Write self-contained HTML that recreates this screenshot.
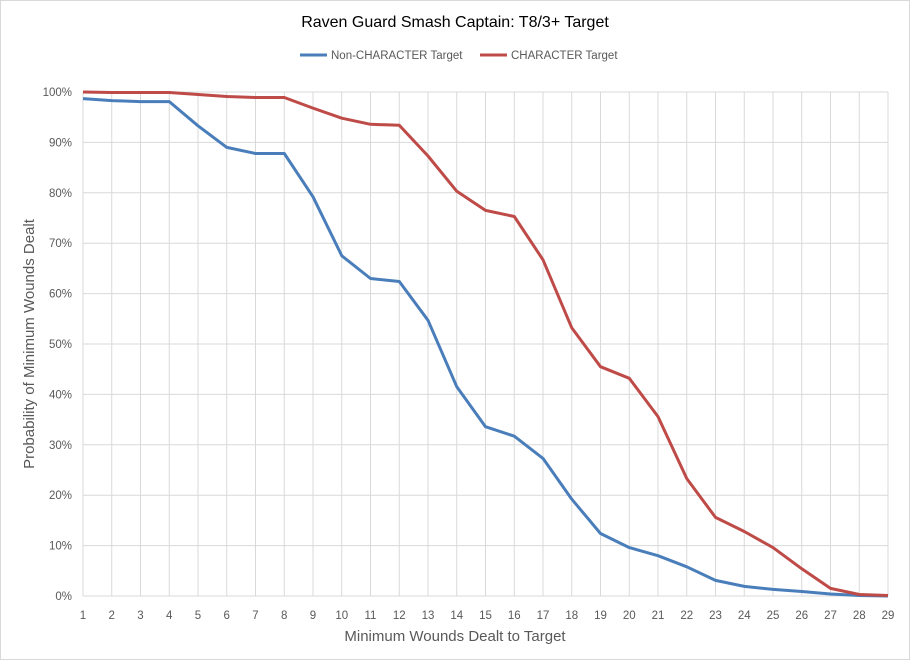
<!DOCTYPE html>
<html><head><meta charset="utf-8"><style>
body{margin:0;background:#fff;}
svg{display:block;font-family:"Liberation Sans",sans-serif;}
</style></head><body>
<svg id="c" width="910" height="660" xmlns="http://www.w3.org/2000/svg">
<rect x="0.5" y="0.5" width="909" height="659" fill="#fff" stroke="#d9d9d9"/>
<text x="455" y="27" text-anchor="middle" font-size="16" fill="#000">Raven Guard Smash Captain: T8/3+ Target</text>
<line x1="300" y1="55" x2="327" y2="55" stroke="#4a7ebb" stroke-width="3"/>
<text x="331" y="59" font-size="11.5" fill="#595959">Non-CHARACTER Target</text>
<line x1="480" y1="55" x2="507" y2="55" stroke="#be4b48" stroke-width="3"/>
<text x="511" y="59" font-size="11.5" fill="#595959">CHARACTER Target</text>
<text x="455" y="641" text-anchor="middle" font-size="15" fill="#595959">Minimum Wounds Dealt  to Target</text>
<text transform="translate(34,344) rotate(-90)" text-anchor="middle" font-size="15" fill="#595959">Probability of Minimum Wounds Dealt</text>
<g id="g"></g>
</svg>
<script>
var g=document.getElementById('g'),s='';
var X0=83,X1=888,Y0=596,Y1=92,dx=(X1-X0)/28;
function X(i){return X0+i*dx}function Y(p){return Y0-(Y0-Y1)*p/100}
for(var i=0;i<=10;i++){var y=Y(i*10);s+='<line x1="'+X0+'" x2="'+X1+'" y1="'+y+'" y2="'+y+'" stroke="#d9d9d9"/>';
s+='<text x="72" y="'+(y+4)+'" text-anchor="end" font-size="11.5" fill="#595959">'+(i*10)+'%</text>';}
for(var i=0;i<29;i++){var x=X(i);s+='<line x1="'+x+'" x2="'+x+'" y1="'+Y1+'" y2="'+Y0+'" stroke="#d9d9d9"/>';
s+='<text x="'+x+'" y="619" text-anchor="middle" font-size="11.5" fill="#595959">'+(i+1)+'</text>';}
var b=[98.7,98.3,98.1,98.1,93.3,89,87.8,87.8,79.2,67.5,63,62.4,54.7,41.5,33.6,31.7,27.3,19.2,12.4,9.6,8,5.8,3.1,1.9,1.3,0.9,0.4,0.1,0];
var r=[100,99.9,99.9,99.9,99.5,99.1,98.9,98.9,96.8,94.8,93.6,93.4,87.3,80.3,76.5,75.3,66.7,53.2,45.5,43.2,35.6,23.3,15.6,12.8,9.6,5.4,1.5,0.3,0.1];
function pl(d,c){return '<polyline fill="none" stroke="'+c+'" stroke-width="3" stroke-linejoin="round" points="'+d.map(function(p,i){return X(i).toFixed(1)+','+Y(p).toFixed(1)}).join(' ')+'"/>'}
s+=pl(b,'#4a7ebb')+pl(r,'#be4b48');
g.innerHTML=s;
</script>
</body></html>
